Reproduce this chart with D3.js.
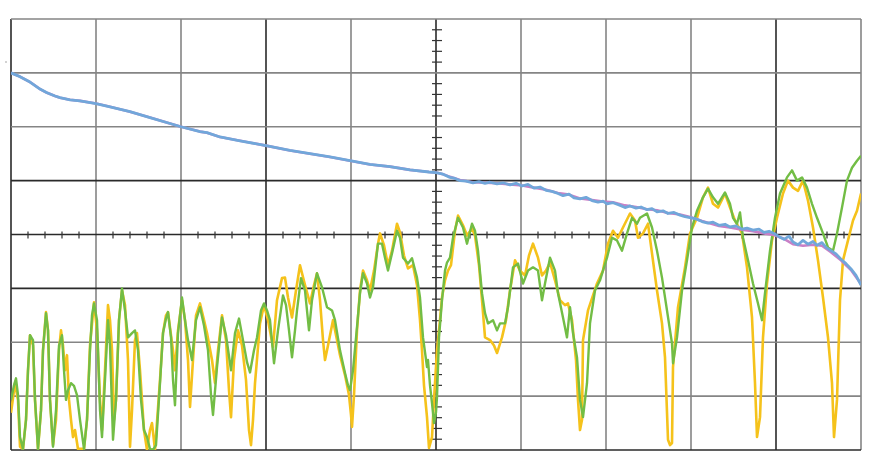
<!DOCTYPE html>
<html><head><meta charset="utf-8">
<script src="https://cdn.jsdelivr.net/npm/d3@7"></script>
<style>html,body{margin:0;padding:0;background:#fff;}svg{display:block;}</style>
</head><body>
<svg id="c" width="870" height="463"></svg>
<script>
// Sample index (0..850) and value in divisions (-4..4)
const xDomain = [0, 850];
const yDomain = [-4, 4];
const xDivisions = 10;
const yDivisions = 8;
const minorPerDiv = 5;

const blue = [[0,3.00],[9,2.93],[19,2.83],[29,2.70],[36,2.63],[44,2.57],[49,2.54],[59,2.50],[69,2.48],[85,2.43],[99,2.37],[119,2.28],[139,2.17],[159,2.06],[170,2.00],[189,1.91],[196,1.89],[209,1.81],[229,1.74],[255,1.65],[279,1.56],[299,1.50],[319,1.44],[339,1.37],[359,1.30],[379,1.26],[399,1.20],[418,1.16],[425,1.15],[432,1.12],[439,1.06],[444,1.04],[449,1.00],[455,0.99],[462,0.96],[468,0.98],[474,0.95],[479,0.97],[486,0.94],[492,0.96],[499,0.92],[505,0.95],[511,0.90],[517,0.93],[523,0.86],[529,0.88],[535,0.82],[541,0.80],[547,0.76],[552,0.72],[558,0.75],[563,0.68],[569,0.66],[575,0.69],[581,0.63],[587,0.60],[592,0.62],[596,0.57],[602,0.59],[608,0.55],[614,0.50],[619,0.53],[625,0.49],[630,0.51],[636,0.46],[641,0.48],[646,0.42],[652,0.44],[657,0.39],[663,0.41],[669,0.36],[674,0.33],[680,0.31],[685,0.29],[691,0.24],[697,0.21],[702,0.23],[708,0.17],[714,0.19],[719,0.14],[725,0.16],[731,0.10],[736,0.12],[742,0.08],[748,0.10],[753,0.04],[758,0.06],[763,0.02],[768,-0.04],[773,-0.09],[778,-0.03],[782,-0.14],[787,-0.19],[792,-0.11],[797,-0.18],[802,-0.13],[806,-0.20],[811,-0.15],[815,-0.24],[820,-0.30],[825,-0.36],[830,-0.46],[835,-0.54],[840,-0.64],[845,-0.76],[850,-0.94]];

const pink = [[0,3.00],[9,2.93],[19,2.83],[29,2.70],[36,2.63],[44,2.57],[49,2.54],[59,2.50],[69,2.48],[85,2.43],[99,2.37],[119,2.28],[139,2.17],[159,2.06],[170,2.00],[189,1.91],[196,1.89],[209,1.81],[229,1.74],[255,1.65],[279,1.56],[299,1.50],[319,1.44],[339,1.37],[359,1.30],[379,1.26],[399,1.20],[418,1.16],[425,1.15],[432,1.12],[439,1.07],[449,1.01],[462,0.97],[474,0.96],[486,0.95],[499,0.93],[511,0.91],[523,0.87],[535,0.83],[547,0.77],[558,0.74],[569,0.67],[581,0.64],[592,0.61],[602,0.60],[614,0.54],[625,0.51],[636,0.47],[646,0.45],[657,0.40],[669,0.37],[680,0.32],[691,0.25],[697,0.22],[708,0.16],[719,0.13],[731,0.09],[742,0.06],[753,0.02],[763,-0.01],[773,-0.08],[782,-0.18],[792,-0.21],[802,-0.19],[811,-0.21],[820,-0.33],[830,-0.48],[840,-0.66],[850,-0.92]];

const yellow = [[0,-3.31],[4,-2.76],[7,-3.07],[9,-3.94],[12,-3.98],[15,-3.44],[17,-2.52],[19,-1.87],[22,-2.06],[24,-3.07],[27,-3.98],[30,-3.26],[32,-2.15],[35,-1.44],[37,-1.78],[39,-3.07],[42,-3.91],[45,-3.44],[48,-2.15],[50,-1.78],[52,-2.06],[54,-2.52],[56,-2.24],[58,-3.07],[60,-3.44],[62,-3.76],[64,-3.63],[67,-3.98],[73,-3.98],[76,-3.44],[79,-2.06],[83,-1.26],[86,-1.78],[89,-3.07],[91,-3.63],[94,-2.52],[97,-1.31],[99,-1.59],[101,-2.15],[103,-3.44],[105,-3.07],[108,-1.59],[111,-1.04],[114,-1.31],[117,-2.33],[119,-3.94],[121,-3.26],[124,-1.96],[126,-1.83],[129,-2.52],[133,-3.63],[136,-4.00],[139,-3.63],[141,-3.50],[144,-4.00],[149,-2.70],[152,-1.83],[155,-1.50],[157,-1.44],[160,-1.87],[162,-2.15],[164,-2.52],[167,-1.78],[171,-1.22],[174,-1.59],[177,-2.33],[179,-3.20],[182,-2.33],[185,-1.50],[189,-1.28],[193,-1.59],[196,-1.83],[201,-2.33],[204,-2.76],[207,-2.15],[211,-1.50],[215,-1.96],[218,-2.89],[220,-3.39],[223,-2.33],[227,-1.78],[231,-2.06],[235,-2.70],[238,-3.63],[240,-3.91],[242,-3.44],[244,-2.76],[249,-1.65],[253,-1.31],[257,-1.59],[262,-2.09],[266,-1.22],[271,-0.81],[274,-0.80],[277,-1.17],[281,-1.54],[285,-1.04],[289,-0.57],[294,-0.94],[299,-1.28],[303,-0.94],[306,-0.72],[309,-1.22],[312,-1.96],[314,-2.33],[317,-2.06],[322,-1.59],[326,-1.96],[329,-2.24],[334,-2.61],[338,-2.98],[340,-3.35],[341,-3.57],[343,-2.98],[346,-1.78],[349,-1.04],[352,-0.67],[356,-0.85],[359,-1.04],[363,-0.67],[367,-0.17],[369,0.02],[373,-0.20],[377,-0.57],[381,-0.30],[386,0.20],[389,0.04],[393,-0.39],[397,-0.63],[402,-0.57],[406,-0.94],[409,-1.59],[411,-2.15],[413,-2.80],[416,-3.39],[418,-3.96],[421,-3.76],[423,-3.07],[426,-2.15],[429,-1.59],[431,-1.17],[434,-0.85],[437,-0.67],[440,-0.57],[444,0.07],[447,0.35],[452,0.17],[456,-0.02],[461,0.11],[464,-0.02],[468,-0.57],[471,-1.22],[474,-1.91],[479,-1.96],[483,-2.06],[486,-2.20],[491,-1.91],[495,-1.59],[499,-1.04],[504,-0.48],[509,-0.67],[514,-0.76],[518,-0.39],[522,-0.17],[527,-0.43],[531,-0.76],[535,-0.67],[539,-0.52],[544,-0.85],[549,-1.22],[554,-1.31],[557,-1.28],[561,-1.59],[565,-2.33],[567,-3.07],[569,-3.63],[571,-3.44],[572,-1.96],[577,-1.41],[582,-1.13],[586,-0.91],[592,-0.67],[597,-0.17],[602,0.07],[607,-0.06],[612,0.13],[619,0.39],[624,0.26],[627,-0.06],[632,0.02],[637,0.20],[641,-0.35],[646,-1.04],[651,-1.65],[654,-2.28],[657,-3.81],[659,-3.91],[661,-3.87],[662,-2.46],[667,-1.35],[674,-0.61],[679,0.02],[686,0.31],[692,0.69],[697,0.87],[702,0.57],[707,0.50],[714,0.76],[719,0.50],[724,0.26],[731,0.02],[736,-0.61],[741,-1.54],[744,-2.76],[746,-3.76],[749,-3.39],[752,-1.91],[756,-0.91],[761,-0.11],[766,0.31],[772,0.76],[777,1.00],[782,0.87],[787,0.81],[792,1.00],[797,0.63],[802,0.13],[807,-0.48],[812,-1.17],[817,-1.91],[821,-2.76],[823,-3.76],[826,-3.07],[829,-1.22],[832,-0.48],[837,-0.11],[842,0.26],[846,0.44],[850,0.76]];

const green = [[0,-3.07],[3,-2.80],[5,-2.67],[7,-2.98],[9,-3.76],[12,-3.98],[15,-3.44],[17,-2.52],[19,-1.87],[22,-1.96],[24,-3.07],[27,-3.98],[30,-3.26],[32,-2.15],[35,-1.46],[37,-1.78],[39,-3.07],[42,-3.94],[45,-3.26],[48,-2.06],[51,-1.87],[53,-2.52],[55,-3.07],[57,-2.89],[60,-2.76],[63,-2.81],[66,-2.98],[69,-3.44],[73,-3.98],[76,-3.44],[79,-2.15],[81,-1.50],[83,-1.28],[86,-1.59],[89,-3.26],[91,-3.76],[94,-2.70],[97,-1.59],[99,-2.06],[102,-3.81],[105,-3.07],[108,-1.59],[111,-1.00],[114,-1.41],[117,-1.91],[121,-1.83],[124,-1.78],[127,-2.15],[130,-3.07],[133,-3.63],[136,-3.76],[139,-3.98],[142,-4.00],[145,-3.91],[149,-2.76],[152,-1.83],[155,-1.56],[157,-1.44],[160,-1.91],[162,-2.70],[164,-3.17],[167,-1.83],[171,-1.17],[174,-1.59],[177,-1.96],[181,-2.33],[185,-1.59],[189,-1.35],[193,-1.69],[197,-2.15],[200,-2.98],[202,-3.35],[206,-2.46],[211,-1.54],[215,-1.87],[220,-2.52],[224,-1.83],[228,-1.56],[232,-1.96],[236,-2.37],[239,-2.56],[243,-2.15],[246,-1.91],[250,-1.41],[253,-1.28],[256,-1.41],[259,-1.59],[263,-2.39],[267,-1.78],[272,-1.13],[275,-1.31],[278,-1.78],[281,-2.28],[284,-1.78],[286,-1.41],[290,-0.81],[294,-1.04],[298,-1.78],[301,-1.22],[306,-0.72],[311,-0.98],[316,-1.35],[321,-1.41],[324,-1.59],[329,-2.15],[334,-2.57],[337,-2.80],[339,-2.89],[342,-2.52],[346,-1.72],[349,-1.09],[352,-0.72],[356,-0.91],[359,-1.17],[362,-0.98],[367,-0.17],[371,-0.17],[374,-0.43],[377,-0.67],[381,-0.35],[386,0.07],[389,-0.06],[392,-0.43],[397,-0.54],[401,-0.44],[406,-0.80],[409,-1.17],[412,-1.91],[416,-2.46],[417,-2.33],[419,-2.80],[421,-3.13],[423,-3.50],[425,-3.30],[426,-3.02],[428,-1.91],[431,-1.22],[434,-0.67],[436,-0.52],[439,-0.43],[442,-0.06],[447,0.31],[452,0.13],[456,-0.17],[461,0.20],[464,0.07],[467,-0.30],[471,-1.09],[474,-1.46],[477,-1.65],[482,-1.59],[486,-1.78],[489,-1.65],[494,-1.65],[497,-1.35],[502,-0.61],[507,-0.54],[512,-0.91],[517,-0.67],[522,-0.61],[527,-0.67],[531,-1.22],[534,-0.91],[539,-0.43],[544,-0.67],[547,-1.09],[552,-1.54],[556,-1.91],[559,-1.35],[562,-1.83],[566,-2.28],[569,-3.07],[572,-3.39],[576,-2.76],[579,-1.65],[584,-1.04],[589,-0.85],[596,-0.43],[601,-0.06],[606,-0.11],[611,-0.30],[616,0.02],[621,0.31],[626,0.20],[629,0.31],[636,0.39],[641,0.13],[646,-0.30],[651,-0.80],[656,-1.41],[661,-2.02],[662,-2.39],[666,-1.91],[671,-1.04],[676,-0.48],[681,0.13],[686,0.44],[692,0.69],[697,0.85],[702,0.69],[707,0.57],[714,0.78],[719,0.57],[722,0.31],[726,0.20],[729,0.41],[732,-0.06],[737,-0.48],[742,-0.91],[747,-1.28],[751,-1.59],[754,-1.09],[759,-0.30],[764,0.31],[769,0.76],[776,1.06],[781,1.19],[786,1.00],[791,1.06],[796,0.87],[801,0.57],[806,0.31],[812,0.02],[817,-0.24],[822,-0.30],[826,0.02],[831,0.50],[836,1.00],[841,1.24],[846,1.37],[850,1.46]];

const darkGridX = [0, 3, 5, 9];   // division indices drawn darker
const darkGridY = [0, 3, 4, 5];

const svg = d3.select("#c");
const x = d3.scaleLinear().domain(xDomain).range([11, 861]);
const y = d3.scaleLinear().domain(yDomain).range([450, 19]);

const defs = svg.append("defs");
defs.append("clipPath").attr("id","clip").append("rect")
  .attr("x",11).attr("y",19).attr("width",850).attr("height",431);

// grid
const g = svg.append("g");
const xStep = (xDomain[1]-xDomain[0]) / xDivisions;
const yStep = (yDomain[1]-yDomain[0]) / yDivisions;
d3.range(xDivisions+1).forEach(i => {
  const xv = xDomain[0] + i*xStep;
  g.append("line").attr("x1",x(xv)).attr("x2",x(xv)).attr("y1",y(yDomain[0])).attr("y2",y(yDomain[1]))
   .attr("stroke", darkGridX.includes(i) ? "#2a2a2a" : "#858585").attr("stroke-width",1.6);
});
d3.range(yDivisions+1).forEach(i => {
  const yv = yDomain[0] + i*yStep;
  g.append("line").attr("y1",y(yv)).attr("y2",y(yv)).attr("x1",x(xDomain[0])).attr("x2",x(xDomain[1]))
   .attr("stroke", darkGridY.includes(i) ? "#2a2a2a" : "#858585").attr("stroke-width",1.6);
});
// center ticks
const cx = x((xDomain[0]+xDomain[1])/2), cy = y(0);
d3.range(xDivisions*minorPerDiv+1).forEach(i => {
  if (i % minorPerDiv === 0) return;
  const px = x(xDomain[0] + i*xStep/minorPerDiv);
  g.append("line").attr("x1",px).attr("x2",px).attr("y1",cy-3).attr("y2",cy+4)
    .attr("stroke","#333").attr("stroke-width",1.2);
});
d3.range(yDivisions*minorPerDiv+1).forEach(i => {
  if (i % minorPerDiv === 0) return;
  const py = y(yDomain[0] + i*yStep/minorPerDiv);
  g.append("line").attr("y1",py).attr("y2",py).attr("x1",cx-4).attr("x2",cx+6)
    .attr("stroke","#333").attr("stroke-width",1.2);
});
svg.append("circle").attr("cx",6).attr("cy",62).attr("r",0.8).attr("fill","#999");

const line = d3.line().x(d => x(d[0])).y(d => y(d[1]));
const traces = svg.append("g").attr("clip-path","url(#clip)");
traces.append("path").datum(yellow).attr("d",line).attr("fill","none")
  .attr("stroke","#f5c21b").attr("stroke-width",2.6).attr("stroke-linejoin","round");
traces.append("path").datum(green).attr("d",line).attr("fill","none")
  .attr("stroke","#72bd45").attr("stroke-width",2.4).attr("stroke-linejoin","round");
traces.append("path").datum(pink).attr("d",line).attr("fill","none")
  .attr("stroke","#c97fc6").attr("stroke-width",2.6).attr("stroke-linejoin","round");
traces.append("path").datum(blue).attr("d",line).attr("fill","none")
  .attr("stroke","#71a7da").attr("stroke-width",2.8).attr("stroke-linejoin","round");
</script>
</body></html>
